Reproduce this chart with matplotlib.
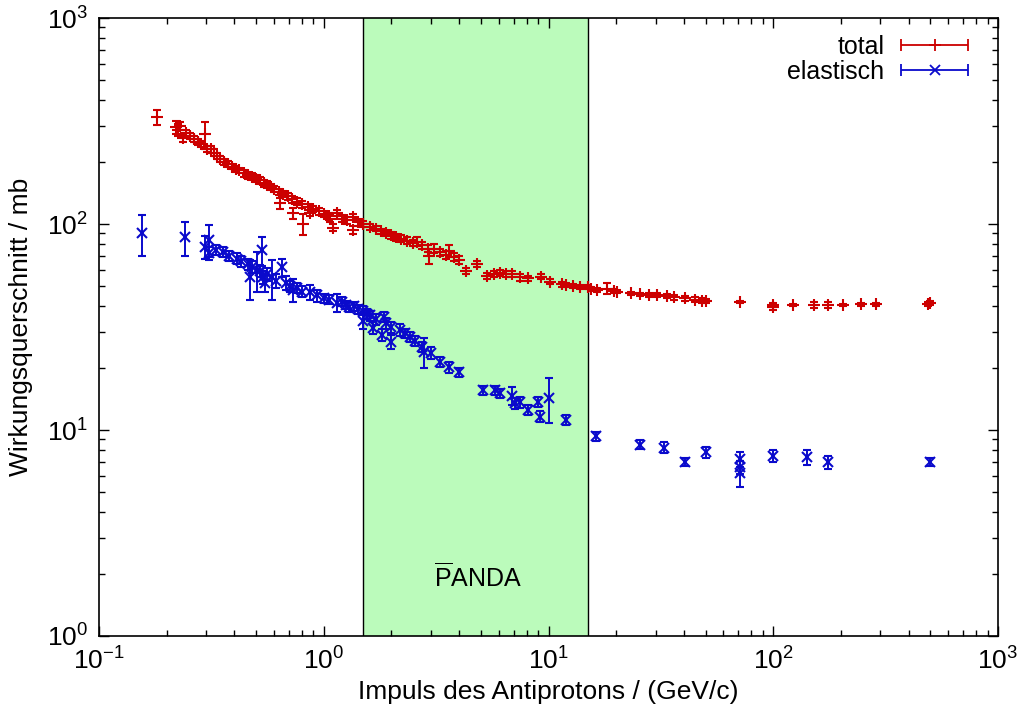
import numpy as np
import matplotlib
matplotlib.use('Agg')
import matplotlib.pyplot as plt
from matplotlib.legend_handler import HandlerErrorbar

plt.rcParams['font.family'] = ['Liberation Sans', 'DejaVu Sans']
plt.rcParams['mathtext.fontset'] = 'custom'
plt.rcParams['mathtext.rm'] = 'Liberation Sans'
plt.rcParams['mathtext.it'] = 'Liberation Sans:italic'

# totaler Wirkungsquerschnitt (Impuls GeV/c, mb, Fehler mb)
total_p = [0.181, 0.220, 0.224, 0.230, 0.236, 0.245, 0.255, 0.265, 0.275, 0.285,
           0.296, 0.303, 0.315, 0.325, 0.335, 0.345, 0.36, 0.375, 0.39, 0.405,
           0.42, 0.44, 0.46, 0.48, 0.50, 0.52, 0.54, 0.56, 0.58, 0.60,
           0.63, 0.64, 0.66, 0.69, 0.72, 0.73, 0.76, 0.80, 0.81, 0.85,
           0.87, 0.90, 0.95, 1.00, 1.05, 1.07, 1.10, 1.14, 1.20, 1.27,
           1.35, 1.35, 1.42, 1.50, 1.60, 1.70, 1.80, 1.90, 2.00, 2.10,
           2.20, 2.35, 2.50, 2.60, 2.75, 2.90, 2.95, 3.10, 3.30, 3.50,
           3.60, 3.80, 4.00, 4.30, 4.80, 5.30, 5.70, 6.10, 6.50, 6.90,
           7.50, 8.10, 9.30, 10.2, 11.5, 12.0, 12.8, 13.8, 15.0, 15.5,
           16.5, 18.3, 19.5, 20.2, 23.3, 25.5, 28.0, 30.4, 33.5, 36.0,
           40.5, 45.0, 48.0, 50.0, 71.0, 100.0, 100.0, 122.0, 152.0, 175.0,
           204.0, 245.0, 286.0, 490.0, 500.0]
total_sig = [330, 296, 286, 300, 262, 275, 268, 258, 250, 244,
             272, 232, 230, 222, 214, 206, 200, 196, 190, 185,
             182, 176, 172, 170, 166, 163, 158, 155, 151, 148,
             143, 126, 140, 136, 132, 113, 128, 125, 100, 121,
             113, 118, 115, 112, 109, 106, 96, 113, 106, 104,
             108, 93.5, 102, 100, 97, 95, 92, 90, 88, 86,
             85, 83, 81, 82, 79, 76, 70, 76, 73, 71,
             74, 69, 67, 59, 64, 56, 57, 58, 57, 57,
             55, 54.5, 55.5, 52.5, 51, 50.5, 50, 49.5, 49.3, 48.5,
             48, 48.5, 47.5, 47, 46, 45.5, 45.2, 45, 44.5, 44,
             43.5, 43, 42.5, 42.3, 41.8, 39.6, 40.5, 40.5, 40.5, 40.5,
             40.5, 40.8, 40.8, 41.0, 41.4]
total_err = [28, 22, 20, 14, 12, 10, 10, 9, 9, 8,
             42, 8, 8, 8, 7, 7, 7, 7, 6, 6,
             6, 6, 6, 6, 6, 6, 6, 6, 5, 5,
             5, 8, 5, 5, 5, 7, 5, 5, 12, 4,
             4, 4, 4, 4, 4, 4, 4, 4, 4, 4,
             4, 4, 4, 3, 3, 3, 3, 3, 3, 3,
             3, 3, 3, 4, 3, 3, 6, 4, 3, 3,
             5, 3, 3, 2, 2, 2, 2, 2, 2, 2,
             2, 1.5, 1.5, 1.5, 1.5, 1, 1, 1, 1, 1,
             1, 3, 1, 1, 1, 1, 1, 1, 1, 1,
             1, 1, 1, 1, 0.6, 1.5, 1, 0.6, 1.2, 1.2,
             0.6, 0.6, 0.6, 1, 1]

# elastischer Wirkungsquerschnitt
elast_p = [0.155, 0.241, 0.296, 0.31, 0.31, 0.33, 0.357, 0.38, 0.41, 0.43,
           0.46, 0.47, 0.48, 0.505, 0.52, 0.53, 0.535, 0.545, 0.56, 0.59,
           0.61, 0.65, 0.68, 0.71, 0.73, 0.76, 0.80, 0.87, 0.93, 1.00,
           1.06, 1.14, 1.20, 1.25, 1.30, 1.36, 1.42, 1.50, 1.55, 1.50,
           1.60, 1.65, 1.70, 1.82, 1.85, 1.90, 2.00, 2.00, 2.18, 2.30,
           2.42, 2.55, 2.74, 2.80, 3.00, 3.28, 3.60, 4.00, 5.10, 5.80,
           6.10, 6.90, 7.10, 7.50, 8.10, 9.00, 9.20, 10.1, 12.0, 16.2,
           25.5, 32.5, 40.5, 50.0, 71.0, 71.0, 71.0, 100.0, 142.0, 176.0,
           500.0]
elast_sig = [90, 86, 77.5, 84, 72, 75, 73, 70, 68, 66,
             64, 55, 62, 60, 59, 74.5, 55, 52, 57, 55,
             53, 61.6, 52, 50, 48, 49, 47, 46.7, 45, 43.5,
             43, 41.5, 42, 40.5, 39.6, 40, 38.5, 38, 36.5, 34,
             36, 31.3, 34.5, 29, 35.3, 33, 26.8, 31.5, 30.6, 29.5,
             28.3, 27, 25.3, 24, 23.7, 21.4, 20.2, 19.1, 15.6, 15.6,
             15.1, 14.7, 13.5, 13.6, 12.5, 13.7, 11.6, 14.3, 11.2, 9.3,
             8.5, 8.2, 7.0, 7.8, 7.2, 6.6, 6.2, 7.5, 7.4, 7.0,
             7.0]
elast_err = [20, 16, 10, 15, 5, 4, 4, 4, 4, 4,
             4, 12, 4, 13, 4, 12, 4, 5, 4, 12,
             4, 6, 4, 3, 6, 3, 3, 4, 3, 2,
             2, 4, 2, 2, 2, 2, 2, 2, 2, 3,
             2, 2, 2, 2, 2, 2, 2, 2, 2, 1.5,
             1.5, 1.5, 1.5, 4, 1.5, 1.2, 1.2, 1, 0.8, 0.8,
             0.8, 1.5, 0.8, 0.8, 0.7, 0.7, 0.7, 3.5, 0.6, 0.5,
             0.4, 0.5, 0.3, 0.5, 0.6, 0.5, 0.9, 0.5, 0.6, 0.5,
             0.3]

panda_min, panda_max = 1.5, 15.0

rot = '#cc0000'
blau = '#0a0acc'
gruen = '#bbfbbb'

fig = plt.figure(figsize=(10.23, 7.19), dpi=100)
ax = fig.add_axes([99 / 1023, 1 - 636 / 719, 899 / 1023, 618 / 719])

ax.set_xscale('log')
ax.set_yscale('log')
ax.set_xlim(0.1, 1000)
ax.set_ylim(1, 1000)

# PANDA Bereich
ax.axvspan(panda_min, panda_max, color=gruen, zorder=0, lw=0)
ax.axvline(panda_min, color='black', lw=1.0, zorder=1)
ax.axvline(panda_max, color='black', lw=1.0, zorder=1)
ax.text(4.85, 1.93, r'$\overline{\mathrm{P}}$ANDA', fontsize=18,
        ha='center', va='center')

ax.errorbar(total_p, total_sig, yerr=total_err, fmt='+', color=rot,
            ms=8, mew=1.5, elinewidth=1.4, capsize=3.2, capthick=1.4, zorder=3)
ax.errorbar(elast_p, elast_sig, yerr=elast_err, fmt='x', color=blau,
            ms=7, mew=1.5, elinewidth=1.4, capsize=3.2, capthick=1.4, zorder=3)

# Legende im gnuplot-Stil (horizontale Fehlerbalken)
h1 = ax.errorbar([np.nan], [np.nan], xerr=[1], fmt='+', color=rot,
                 ms=8, mew=1.3, elinewidth=1.3, capsize=4, capthick=1.3)
h2 = ax.errorbar([np.nan], [np.nan], xerr=[1], fmt='x', color=blau,
                 ms=7, mew=1.3, elinewidth=1.3, capsize=4, capthick=1.3)
ax.legend([h1, h2], ['total', 'elastisch'], loc='upper right',
          bbox_to_anchor=(0.967, 0.973), frameon=False, markerfirst=False,
          fontsize=18, handlelength=2.7, handletextpad=0.65, labelspacing=0.05,
          borderpad=0, borderaxespad=0, numpoints=1,
          handler_map={type(h1): HandlerErrorbar(xerr_size=1.35)})

ax.set_xlabel('Impuls des Antiprotons / (GeV/c)', fontsize=19, labelpad=4)
ax.set_ylabel('Wirkungsquerschnitt / mb', fontsize=19, labelpad=10)

ax.tick_params(which='both', direction='in', top=True, right=True, labelsize=19)
ax.tick_params(which='major', length=7, width=1.0, pad=8)
ax.tick_params(which='minor', length=4, width=1.0)
for s in ax.spines.values():
    s.set_linewidth(1.2)

plt.savefig('out.png', dpi=100)
